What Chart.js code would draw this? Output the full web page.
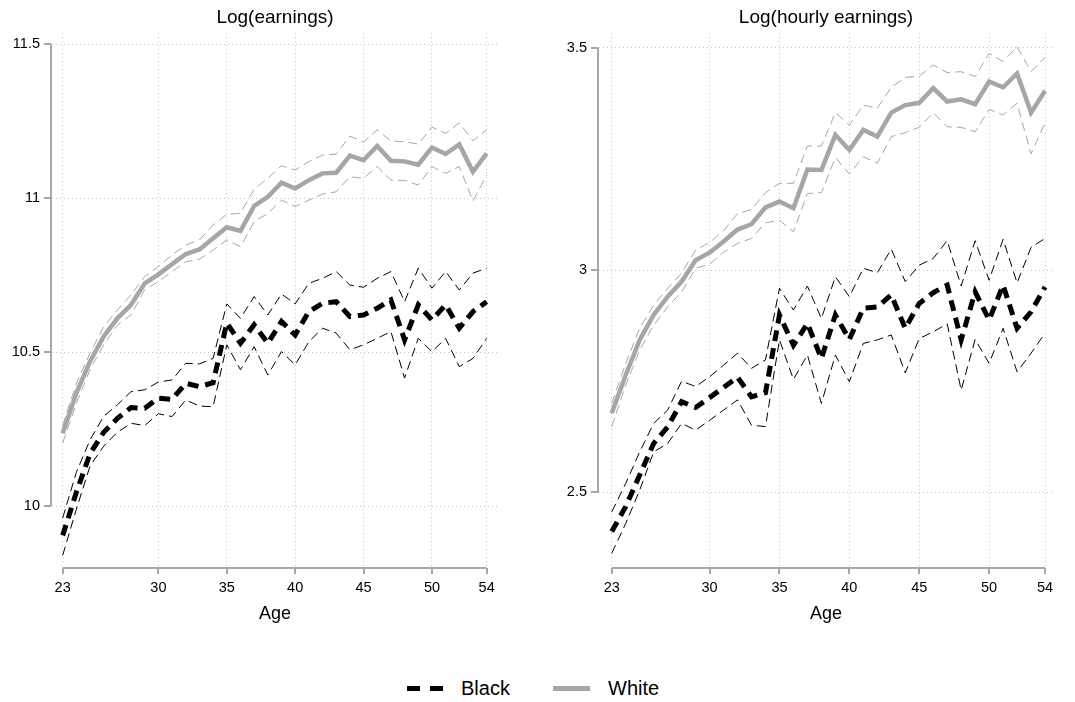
<!DOCTYPE html>
<html lang="en">
<head>
<meta charset="utf-8">
<title>Earnings by age</title>
<script src="https://cdn.jsdelivr.net/npm/chart.js@4/dist/chart.umd.min.js"></script>
<style>
  body { margin: 0; background: #fff; font-family: 'Liberation Sans', Arial, Helvetica, sans-serif; }
  #wrap { position: relative; width: 1075px; height: 702px; overflow: hidden; }
  canvas { position: absolute; top: 0; }
  #chartEarn { left: 0; }
  #chartHourly { left: 537px; }
  .leg-key { position: absolute; top: 686px; width: 37px; height: 5px; }
  .leg-txt { position: absolute; top: 677px; line-height: 22px; font-size: 20px; color: #000; }
</style>
</head>
<body>
<div id="wrap">
  <canvas id="chartEarn" width="537" height="640"></canvas>
  <canvas id="chartHourly" width="538" height="640"></canvas>
  <div class="leg-key" style="left:407px;background:repeating-linear-gradient(to right,#000 0 13px,transparent 13px 23px)"></div>
  <div class="leg-txt" style="left:461px">Black</div>
  <div class="leg-key" style="left:553px;background:#a6a6a6"></div>
  <div class="leg-txt" style="left:608px">White</div>
</div>
<script>
// --- DATA ---
const ages = [23, 24, 25, 26, 27, 28, 29, 30, 31, 32, 33, 34, 35, 36, 37, 38,
              39, 40, 41, 42, 43, 44, 45, 46, 47, 48, 49, 50, 51, 52, 53, 54];
const ageTicks = [23, 30, 35, 40, 45, 50, 54];

// log annual earnings
const earnTicks = [10, 10.5, 11, 11.5];
const earnWhite = [10.237, 10.367, 10.470, 10.551, 10.610, 10.654, 10.724, 10.753, 10.786, 10.819, 10.834, 10.870, 10.906, 10.894, 10.975, 11.005,
                   11.051, 11.032, 11.059, 11.081, 11.083, 11.139, 11.124, 11.170, 11.122, 11.120, 11.109, 11.165, 11.144, 11.175, 11.086, 11.146];
const earnWhiteHi = [10.262, 10.399, 10.497, 10.583, 10.637, 10.686, 10.746, 10.778, 10.816, 10.848, 10.865, 10.913, 10.948, 10.951, 11.030, 11.065,
                     11.106, 11.092, 11.119, 11.140, 11.144, 11.202, 11.183, 11.223, 11.186, 11.184, 11.176, 11.231, 11.211, 11.245, 11.187, 11.223];
const earnWhiteLo = [10.205, 10.334, 10.443, 10.524, 10.589, 10.621, 10.703, 10.729, 10.762, 10.794, 10.802, 10.832, 10.865, 10.843, 10.924, 10.951,
                     10.994, 10.973, 10.994, 11.014, 11.021, 11.070, 11.065, 11.103, 11.059, 11.058, 11.043, 11.103, 11.081, 11.103, 10.991, 11.076];
const earnBlack = [9.905, 10.045, 10.170, 10.240, 10.285, 10.320, 10.318, 10.351, 10.347, 10.399, 10.388, 10.401, 10.595, 10.529, 10.589, 10.529,
                   10.600, 10.556, 10.632, 10.659, 10.664, 10.616, 10.621, 10.643, 10.670, 10.540, 10.654, 10.605, 10.654, 10.578, 10.632, 10.664];
const earnBlackHi = [9.961, 10.110, 10.215, 10.292, 10.329, 10.372, 10.378, 10.403, 10.410, 10.464, 10.462, 10.480, 10.657, 10.610, 10.681, 10.621,
                     10.689, 10.657, 10.724, 10.740, 10.762, 10.718, 10.711, 10.740, 10.762, 10.664, 10.773, 10.708, 10.762, 10.702, 10.757, 10.773];
const earnBlackLo = [9.840, 9.990, 10.130, 10.195, 10.240, 10.269, 10.262, 10.300, 10.291, 10.345, 10.325, 10.323, 10.524, 10.443, 10.518, 10.426,
                     10.502, 10.459, 10.534, 10.578, 10.562, 10.508, 10.524, 10.545, 10.567, 10.416, 10.545, 10.502, 10.545, 10.453, 10.480, 10.545];

// log hourly earnings
const hourTicks = [2.5, 3, 3.5];
const hourWhite = [2.678, 2.764, 2.843, 2.899, 2.940, 2.974, 3.022, 3.039, 3.064, 3.091, 3.103, 3.141, 3.154, 3.139, 3.226, 3.225,
                   3.304, 3.270, 3.315, 3.300, 3.354, 3.371, 3.376, 3.409, 3.379, 3.384, 3.373, 3.424, 3.411, 3.442, 3.354, 3.403];
const hourWhiteHi = [2.700, 2.790, 2.869, 2.921, 2.959, 2.993, 3.045, 3.062, 3.088, 3.127, 3.136, 3.174, 3.195, 3.195, 3.279, 3.279,
                     3.354, 3.326, 3.371, 3.364, 3.411, 3.433, 3.436, 3.461, 3.444, 3.446, 3.435, 3.487, 3.469, 3.502, 3.446, 3.478];
const hourWhiteLo = [2.648, 2.741, 2.820, 2.876, 2.917, 2.951, 3.004, 3.013, 3.040, 3.060, 3.071, 3.106, 3.112, 3.086, 3.172, 3.174,
                     3.253, 3.216, 3.255, 3.240, 3.300, 3.309, 3.321, 3.354, 3.322, 3.321, 3.311, 3.361, 3.349, 3.375, 3.261, 3.331];
const hourBlack = [2.412, 2.468, 2.539, 2.610, 2.647, 2.704, 2.691, 2.713, 2.736, 2.759, 2.715, 2.724, 2.899, 2.831, 2.880, 2.801,
                   2.899, 2.844, 2.914, 2.917, 2.944, 2.869, 2.925, 2.949, 2.966, 2.843, 2.951, 2.888, 2.966, 2.869, 2.906, 2.962];
const hourBlackHi = [2.456, 2.520, 2.591, 2.655, 2.685, 2.750, 2.738, 2.760, 2.786, 2.813, 2.779, 2.798, 2.959, 2.910, 2.964, 2.891,
                     2.985, 2.940, 3.004, 2.994, 3.047, 2.974, 3.011, 3.026, 3.066, 2.964, 3.066, 2.977, 3.069, 2.971, 3.051, 3.071];
const hourBlackLo = [2.363, 2.430, 2.505, 2.591, 2.610, 2.655, 2.640, 2.662, 2.685, 2.708, 2.651, 2.648, 2.843, 2.754, 2.809, 2.700,
                     2.809, 2.749, 2.835, 2.843, 2.854, 2.769, 2.846, 2.861, 2.879, 2.730, 2.844, 2.790, 2.869, 2.771, 2.813, 2.858];

const GRAY = '#a6a6a6';
const FONT = "'Liberation Sans', Arial, Helvetica, sans-serif";

Chart.defaults.font.family = FONT;
Chart.defaults.font.size = 14.5;
Chart.defaults.color = '#000';

// --- AXES (lines only over the tick range, Stata style) + panel title ---
const axisLines = {
    id: 'axisLines',
    afterDraw(chart, args, opts) {
        const { ctx, chartArea, scales: { x, y } } = chart;
        const xt = x.ticks.map(t => t.value);
        const yt = y.ticks.map(t => t.value);
        ctx.save();
        ctx.strokeStyle = '#a8a8a8';
        ctx.lineWidth = 2;
        ctx.beginPath();
        const ax = chartArea.left - 1;
        ctx.moveTo(ax, y.getPixelForValue(yt[0]));
        ctx.lineTo(ax, y.getPixelForValue(yt[yt.length - 1]));
        yt.forEach(v => {
            const p = Math.round(y.getPixelForValue(v));
            ctx.moveTo(ax, p);
            ctx.lineTo(ax - 7, p);
        });
        const ay = chartArea.bottom;
        ctx.moveTo(x.getPixelForValue(xt[0]), ay);
        ctx.lineTo(x.getPixelForValue(xt[xt.length - 1]), ay);
        xt.forEach(v => {
            const p = Math.round(x.getPixelForValue(v));
            ctx.moveTo(p, ay);
            ctx.lineTo(p, ay + 6);
        });
        ctx.stroke();

        ctx.fillStyle = '#000';
        ctx.font = '19px ' + FONT;
        ctx.textAlign = 'center';
        ctx.textBaseline = 'middle';
        ctx.fillText(opts.title, (chartArea.left + chartArea.right) / 2, 18);
        ctx.restore();
    }
};
Chart.register(axisLines);

function serie(vals, color, width, dash) {
    return {
        data: vals.map((v, i) => ({ x: ages[i], y: v })),
        borderColor: color,
        borderWidth: width,
        borderDash: dash,
        pointRadius: 0,
        fill: false,
        tension: 0
    };
}

function painel(id, p) {
    new Chart(document.getElementById(id), {
        type: 'line',
        data: {
            datasets: [
                serie(p.black, '#000', 5, [11, 7]),
                serie(p.white, GRAY, 4.5, []),
                serie(p.blackHi, '#000', 1, [9, 5]),
                serie(p.blackLo, '#000', 1, [9, 5]),
                serie(p.whiteHi, GRAY, 1, [9, 5]),
                serie(p.whiteLo, GRAY, 1, [9, 5])
            ]
        },
        options: {
            responsive: false,
            animation: false,
            devicePixelRatio: 1,
            events: [],
            layout: { padding: { top: 33, right: p.padRight, bottom: 0, left: 0 } },
            plugins: {
                legend: { display: false },
                tooltip: { enabled: false },
                axisLines: { title: p.title }
            },
            scales: {
                x: {
                    type: 'linear',
                    min: p.xMin,
                    max: p.xMax,
                    afterBuildTicks: s => { s.ticks = ageTicks.map(v => ({ value: v })); },
                    afterFit: s => { s.height = 72; },
                    ticks: { padding: 11, font: { size: 14.5 }, callback: v => String(v) },
                    grid: { color: '#c4c4c4', lineWidth: 1, drawTicks: false },
                    border: { display: false, dash: [1, 3] },
                    title: { display: true, text: 'Age', font: { size: 18 }, padding: { top: 4, bottom: 15 } }
                },
                y: {
                    type: 'linear',
                    min: p.yMin,
                    max: p.yMax,
                    afterBuildTicks: s => { s.ticks = p.yTicks.map(v => ({ value: v })); },
                    afterFit: s => { s.width = p.yWidth; },
                    ticks: { padding: 12, font: { size: 14.5 }, callback: v => String(v) },
                    grid: { color: '#c4c4c4', lineWidth: 1, drawTicks: false },
                    border: { display: false, dash: [1, 3] }
                }
            }
        }
    });
}

painel('chartEarn', {
    title: 'Log(earnings)',
    white: earnWhite, whiteHi: earnWhiteHi, whiteLo: earnWhiteLo,
    black: earnBlack, blackHi: earnBlackHi, blackLo: earnBlackLo,
    yTicks: earnTicks, yMin: 9.799, yMax: 11.537,
    xMin: 22.22, xMax: 54.83,
    yWidth: 52, padRight: 39
});

painel('chartHourly', {
    title: 'Log(hourly earnings)',
    white: hourWhite, whiteHi: hourWhiteHi, whiteLo: hourWhiteLo,
    black: hourBlack, blackHi: hourBlackHi, blackLo: hourBlackLo,
    yTicks: hourTicks, yMin: 2.33, yMax: 3.533,
    xMin: 22.09, xMax: 54.57,
    yWidth: 62, padRight: 22
});
</script>
</body>
</html>
